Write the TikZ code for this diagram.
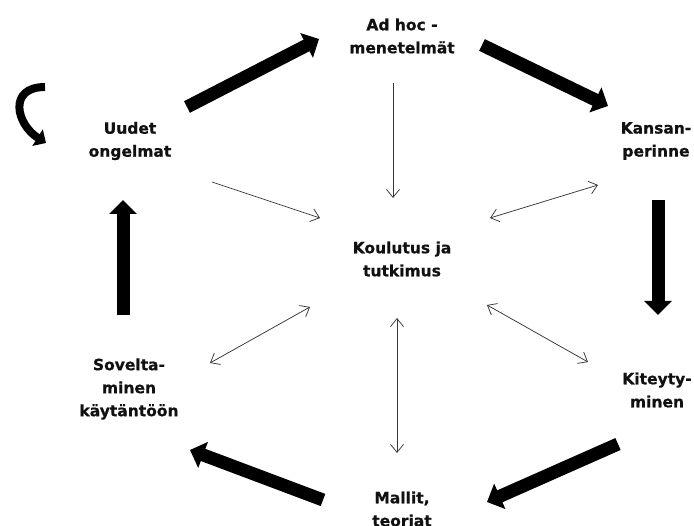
\documentclass[tikz,border=0pt]{standalone}
\usepackage{fontspec}
\setmainfont{DejaVu Sans}[BoldFeatures={FakeBold=0.6}]
\usetikzlibrary{arrows.meta}
\definecolor{ink}{RGB}{17,17,17}
\definecolor{thin}{RGB}{55,55,55}
\tikzset{
  lbl/.style={align=center, font=\fontsize{15.5}{23}\selectfont\bfseries, text=ink, inner sep=0pt},
  bigarrow/.style={draw=black, line width=13pt, -{Triangle[length=14pt 0 0, width=27pt 0 0]}},
  thinarrow/.style={draw=thin, line width=0.75pt, -{Straight Barb[length=8pt 0 0, width=13pt 0 0]}},
  thinboth/.style={draw=thin, line width=0.75pt, {Straight Barb[length=8pt 0 0, width=13pt 0 0]}-{Straight Barb[length=8pt 0 0, width=13pt 0 0]}},
  looparrow/.style={draw=black, line width=8pt, -{Triangle[length=10pt 0 0, width=19pt 0 0]}}
}
\begin{document}
\begin{tikzpicture}[x=1pt, y=-1pt]
\useasboundingbox[fill=white] (0,0) rectangle (694,526);

\node[lbl] (adhoc)   at (402,36)  {Ad hoc -\\menetelmät};
\node[lbl] (uudet)   at (130,141) {Uudet\\ongelmat};
\node[lbl] (kansan)  at (656,141) {Kansan-\\perinne};
\node[lbl] (koul)    at (402,259) {Koulutus ja\\tutkimus};
\node[lbl] (kiteyty) at (657,390) {Kiteyty-\\minen};
\node[lbl] (sovelta) at (129,389) {Sovelta-\\minen\\käytäntöön};
\node[lbl] (mallit)  at (402,509) {Mallit,\\teoriat};

% thick cycle arrows
\draw[bigarrow] ([shift={(57,-34)}]uudet.center) -- ([shift={(-83,3)}]adhoc.center);
\draw[bigarrow] ([shift={(80,9)}]adhoc.center) -- ([shift={(-48,-35)}]kansan.center);
\draw[bigarrow] ([shift={(2,59)}]kansan.center) -- ([shift={(1,-75)}]kiteyty.center);
\draw[bigarrow] ([shift={(-39,54)}]kiteyty.center) -- ([shift={(85,-7)}]mallit.center);
\draw[bigarrow] ([shift={(-79,-9)}]mallit.center) -- ([shift={(61,61)}]sovelta.center);
\draw[bigarrow] ([shift={(-6,-74)}]sovelta.center) -- ([shift={(-7,59)}]uudet.center);

% curved arrow beside Uudet ongelmat
\draw[looparrow] ([shift={(-85,-54)}]uudet.center) .. controls ([shift={(-122,-54)}]uudet.center) and ([shift={(-114,-17)}]uudet.center) .. ([shift={(-84,2)}]uudet.center);

% thin arrows to/from the centre
\draw[thinarrow] ([shift={(-9,47)}]adhoc.center) -- ([shift={(-9,-61)}]koul.center);
\draw[thinarrow] ([shift={(82,41)}]uudet.center) -- ([shift={(-82,-41)}]koul.center);
\draw[thinboth] ([shift={(88,-41)}]koul.center) -- ([shift={(-58,44)}]kansan.center);
\draw[thinboth] ([shift={(85,46)}]koul.center) -- ([shift={(-69,-28)}]kiteyty.center);
\draw[thinboth] ([shift={(-5,59)}]koul.center) -- ([shift={(-5,-56)}]mallit.center);
\draw[thinboth] ([shift={(-92,48)}]koul.center) -- ([shift={(81,-26)}]sovelta.center);
\end{tikzpicture}
\end{document}
